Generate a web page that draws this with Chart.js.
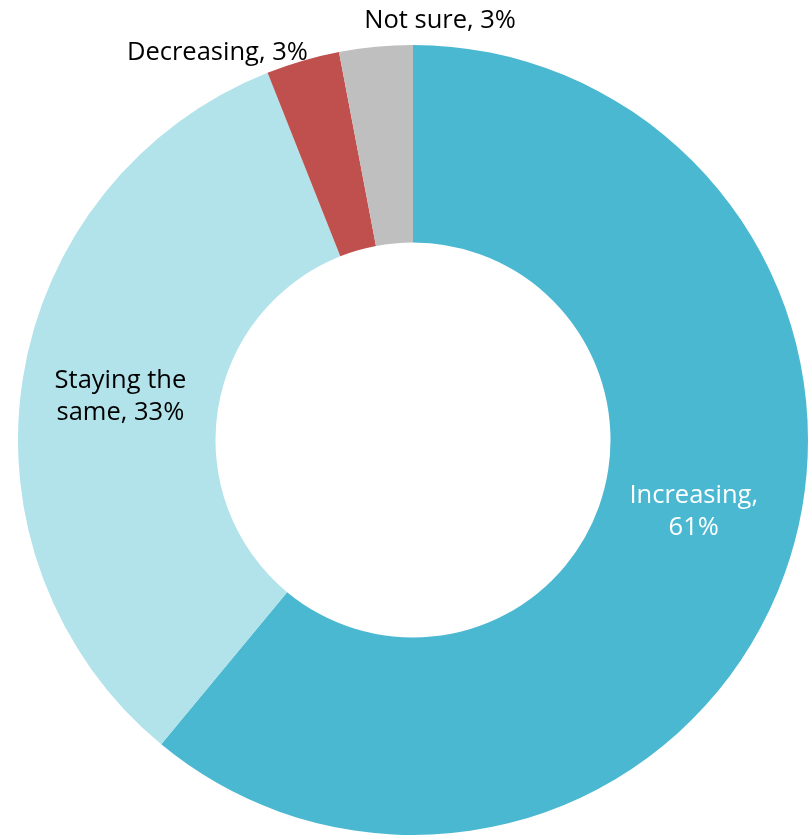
<!DOCTYPE html>
<html>
<head>
<meta charset="utf-8">
<script src="https://cdn.jsdelivr.net/npm/chart.js@4.4.0/dist/chart.umd.min.js"></script>
<style>
  html, body { margin: 0; padding: 0; background: #fff; }
  #wrap { width: 808px; height: 835px; }
</style>
</head>
<body>
<div id="wrap"><canvas id="donut"></canvas></div>
<script>
// Chart data
const categories = ['Increasing', 'Staying the same', 'Decreasing', 'Not sure'];
const percents = [61, 33, 3, 3];
const labelLines = [
  ['Increasing,', '61%'],
  ['Staying the', 'same, 33%'],
  ['Decreasing, 3%'],
  ['Not sure, 3%']
];
const sliceColors = ['#4BB8D2', '#B2E3EA', '#C0504D', '#BFBFBF'];
const labelColors = ['#ffffff', '#000000', '#000000', '#000000'];

// nudge from mid-radius point of each slice
const labelNudge = [[2, -29], [0, 3], [-113, -103], [55, -124]];

const sliceLabels = {
  id: 'sliceLabels',
  afterDatasetsDraw(chart) {
    const ctx = chart.ctx;
    const arcs = chart.getDatasetMeta(0).data;
    ctx.save();
    ctx.font = '25.5px "Open Sans"';
    ctx.textAlign = 'center';
    ctx.textBaseline = 'middle';
    arcs.forEach((arc, i) => {
      const p = arc.getProps(['x', 'y', 'startAngle', 'endAngle', 'innerRadius', 'outerRadius'], true);
      const mid = (p.startAngle + p.endAngle) / 2;
      const r = (p.innerRadius + p.outerRadius) / 2;
      const cx = p.x + r * Math.cos(mid) + labelNudge[i][0];
      const cy = p.y + r * Math.sin(mid) + labelNudge[i][1];
      const lines = labelLines[i];
      const lh = 32;
      ctx.fillStyle = labelColors[i];
      lines.forEach((t, j) => {
        ctx.fillText(t, cx, cy + (j - (lines.length - 1) / 2) * lh);
      });
    });
    ctx.restore();
  }
};

new Chart(document.getElementById('donut'), {
  type: 'doughnut',
  data: {
    labels: categories,
    datasets: [{
      data: percents,
      backgroundColor: sliceColors,
      borderWidth: 0
    }]
  },
  options: {
    responsive: true,
    maintainAspectRatio: false,
    animation: false,
    cutout: '50%',
    layout: { padding: { top: 45, left: 18, right: 0, bottom: 0 } },
    plugins: {
      legend: { display: false },
      tooltip: { enabled: false }
    }
  },
  plugins: [sliceLabels]
});
</script>
</body>
</html>
